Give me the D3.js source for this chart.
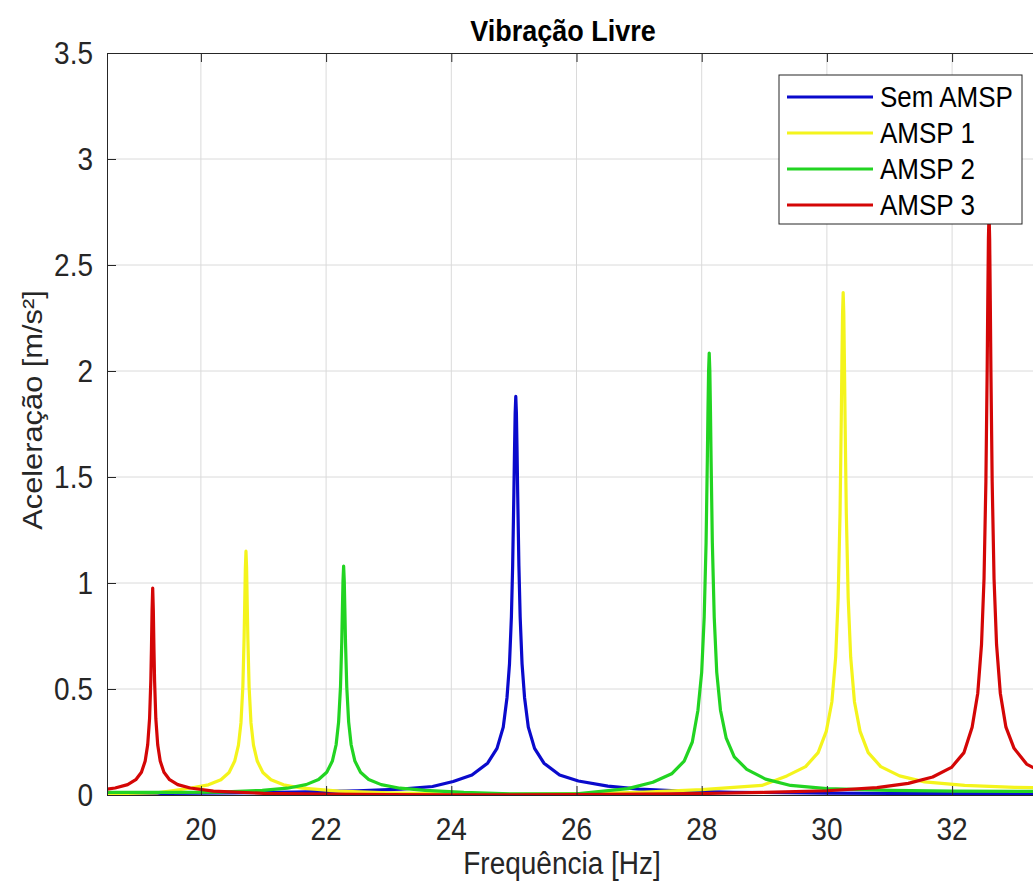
<!DOCTYPE html>
<html>
<head>
<meta charset="utf-8">
<script src="https://cdn.jsdelivr.net/npm/d3@7"></script>
<style>
  body { margin: 0; background: #fff; }
  svg { display: block; font-family: "Liberation Sans", Arial, sans-serif; }
</style>
</head>
<body>
<div id="chart"></div>
<script>
// Values: [frequency Hz, acceleration m/s²]
const semAmsp = [
  [18.5,0.006],[19.5,0.008],[20.5,0.010],[21.5,0.014],[22.5,0.020],[23.2,0.028],[23.7,0.040],
  [24.03,0.064],[24.33,0.094],[24.58,0.15],[24.73,0.22],[24.83,0.32],[24.89,0.46],[24.93,0.62],
  [24.96,0.84],[24.98,1.08],[25.0,1.43],[25.01,1.63],[25.02,1.80],[25.03,1.88],[25.04,1.80],
  [25.05,1.63],[25.06,1.43],[25.08,1.08],[25.1,0.84],[25.13,0.62],[25.17,0.46],[25.23,0.32],
  [25.33,0.22],[25.48,0.15],[25.73,0.094],[26.03,0.066],[26.5,0.042],[27.0,0.028],[27.6,0.019],
  [28.5,0.013],[30,0.009],[31.5,0.007],[34,0.006]
];

const amsp1 = [
  [18.5,0.006],[19.3,0.010],[19.82,0.032],[20.12,0.048],[20.32,0.072],[20.45,0.106],[20.54,0.16],
  [20.6,0.235],[20.64,0.34],[20.67,0.51],[20.69,0.74],[20.70,0.90],[20.71,1.07],[20.72,1.15],
  [20.73,1.07],[20.74,0.90],[20.75,0.74],[20.77,0.51],[20.80,0.34],[20.84,0.235],[20.90,0.16],
  [20.99,0.106],[21.12,0.072],[21.32,0.048],[21.62,0.032],[22.2,0.018],[23,0.010],[24,0.006],
  [25,0.003],[26,0.006],[27,0.013],[28,0.025],[28.96,0.045],[29.36,0.09],[29.66,0.134],
  [29.86,0.20],[29.99,0.30],[30.08,0.44],[30.14,0.65],[30.18,0.93],[30.21,1.33],[30.23,1.78],
  [30.24,2.04],[30.25,2.27],[30.26,2.37],[30.27,2.27],[30.28,2.04],[30.29,1.78],[30.31,1.33],
  [30.34,0.93],[30.38,0.65],[30.44,0.44],[30.53,0.30],[30.66,0.20],[30.86,0.134],[31.16,0.09],
  [31.56,0.062],[32.2,0.045],[33,0.036],[34,0.032]
];

const amsp2 = [
  [18.5,0.012],[19.5,0.012],[20.3,0.014],[20.98,0.022],[21.38,0.032],[21.68,0.049],[21.88,0.073],
  [22.01,0.107],[22.10,0.16],[22.16,0.237],[22.20,0.345],[22.23,0.51],[22.25,0.72],[22.26,0.87],
  [22.27,1.01],[22.28,1.08],[22.29,1.01],[22.30,0.87],[22.31,0.72],[22.33,0.51],[22.36,0.345],
  [22.40,0.237],[22.46,0.16],[22.55,0.107],[22.68,0.073],[22.88,0.049],[23.18,0.032],[23.58,0.022],
  [24.2,0.012],[25,0.005],[26,0.006],[26.82,0.03],[27.22,0.06],[27.52,0.10],[27.72,0.16],
  [27.85,0.25],[27.94,0.40],[28.00,0.58],[28.04,0.84],[28.07,1.19],[28.09,1.58],[28.10,1.81],
  [28.11,2.0],[28.12,2.085],[28.13,2.0],[28.14,1.81],[28.15,1.58],[28.17,1.19],[28.20,0.84],
  [28.24,0.58],[28.30,0.40],[28.39,0.27],[28.52,0.18],[28.72,0.121],[29.02,0.075],[29.42,0.045],
  [30,0.03],[31,0.022],[32,0.018],[34,0.016]
];

const amsp3 = [
  [18.5,0.028],[18.63,0.033],[18.83,0.049],[18.96,0.072],[19.05,0.107],[19.11,0.16],[19.15,0.237],
  [19.18,0.36],[19.20,0.54],[19.21,0.69],[19.22,0.87],[19.23,0.976],[19.24,0.87],[19.25,0.69],
  [19.26,0.54],[19.28,0.36],[19.31,0.237],[19.35,0.16],[19.41,0.107],[19.50,0.072],[19.63,0.049],
  [19.83,0.033],[20.2,0.018],[21,0.008],[22,0.004],[23,0.002],[24,0.001],[25,0.001],[26,0.002],
  [27,0.004],[28,0.007],[29,0.012],[30,0.02],[30.8,0.035],[31.3,0.055],[31.69,0.085],[31.99,0.13],
  [32.19,0.2],[32.32,0.32],[32.41,0.48],[32.47,0.71],[32.51,1.02],[32.54,1.48],[32.56,2.0],
  [32.57,2.33],[32.58,2.62],[32.59,2.75],[32.60,2.62],[32.61,2.33],[32.62,2.0],[32.64,1.48],
  [32.67,1.02],[32.71,0.71],[32.77,0.48],[32.86,0.32],[32.99,0.22],[33.19,0.146],[33.49,0.098],
  [34,0.07]
];

const seriesNames = ["Sem AMSP", "AMSP 1", "AMSP 2", "AMSP 3"];
const seriesColors = ["#0a0acc", "#f4f41c", "#22d422", "#d40606"];
const seriesData = [semAmsp, amsp1, amsp2, amsp3];

const xTicks = [20, 22, 24, 26, 28, 30, 32];
const yTicks = [0, 0.5, 1, 1.5, 2, 2.5, 3, 3.5];

const W = 1033, H = 882;
const plot = { left: 107, top: 53, bottom: 795 };
const pxPerHz = 62.6;
const stretch = 1.1;       // the reference text is a little taller than wide
const axisColor = "#262626";

const svg = d3.select("#chart")
  .append("svg")
  .attr("width", W)
  .attr("height", H);

const xScale = d3.scaleLinear()
  .domain([18.5, 34])
  .range([plot.left, plot.left + 15.5 * pxPerHz]);

const yScale = d3.scaleLinear()
  .domain([0, 3.5])
  .range([plot.bottom, plot.top]);

const plotRight = xScale(34);

// helper: text stretched vertically around its own anchor
function label(g, x, y, str, size, opts = {}) {
  const t = g.append("text")
    .attr("transform", `translate(${x},${y})${opts.rotate ? " rotate(-90)" : ""} scale(${opts.rotate ? stretch + ",1" : "1," + stretch})`)
    .attr("text-anchor", opts.anchor || "middle")
    .attr("dominant-baseline", "central")
    .attr("font-size", size)
    .attr("fill", opts.fill || axisColor)
    .text(str);
  if (opts.bold) t.attr("font-weight", "bold");
  return t;
}

// grid
svg.append("g")
  .selectAll("line")
  .data(xTicks)
  .join("line")
  .attr("x1", d => xScale(d)).attr("x2", d => xScale(d))
  .attr("y1", plot.top).attr("y2", plot.bottom)
  .attr("stroke", "#dadada").attr("stroke-width", 1);

svg.append("g")
  .selectAll("line")
  .data(yTicks.filter(d => d > 0 && d < 3.5))
  .join("line")
  .attr("x1", plot.left).attr("x2", plotRight)
  .attr("y1", d => yScale(d)).attr("y2", d => yScale(d))
  .attr("stroke", "#dadada").attr("stroke-width", 1);

// curves
svg.append("clipPath").attr("id", "clip")
  .append("rect")
  .attr("x", plot.left).attr("y", plot.top)
  .attr("width", plotRight - plot.left).attr("height", plot.bottom - plot.top);

const line = d3.line()
  .x(d => xScale(d[0]))
  .y(d => yScale(d[1]));

svg.append("g")
  .attr("clip-path", "url(#clip)")
  .selectAll("path")
  .data(seriesData)
  .join("path")
  .attr("d", line)
  .attr("fill", "none")
  .attr("stroke", (d, i) => seriesColors[i])
  .attr("stroke-width", 3.2)
  .attr("stroke-linejoin", "round");

// axes (MATLAB style: ticks pointing inward, labels drawn separately)
svg.append("g")
  .attr("transform", `translate(0,${plot.bottom})`)
  .call(d3.axisBottom(xScale).tickValues(xTicks).tickSizeInner(-9).tickSizeOuter(0).tickFormat(""))
  .call(g => g.selectAll("line, path").attr("stroke", axisColor));

svg.append("g")
  .attr("transform", `translate(0,${plot.top})`)
  .call(d3.axisTop(xScale).tickValues(xTicks).tickSizeInner(-9).tickSizeOuter(0).tickFormat(""))
  .call(g => g.selectAll("line, path").attr("stroke", axisColor));

svg.append("g")
  .attr("transform", `translate(${plot.left},0)`)
  .call(d3.axisLeft(yScale).tickValues(yTicks).tickSizeInner(-9).tickSizeOuter(0).tickFormat(""))
  .call(g => g.selectAll("line, path").attr("stroke", axisColor));

const tickLabels = svg.append("g");
xTicks.forEach(d => label(tickLabels, xScale(d), 829, d, 28));
yTicks.forEach(d => label(tickLabels, 93, yScale(d), d, 28, { anchor: "end" }));

// title and axis labels
label(svg, 563, 31, "Vibração Livre", 27, { bold: true, fill: "#000" });
label(svg, 562, 863, "Frequência [Hz]", 28);
label(svg, 32, 410, "Aceleração [m/s²]", 28, { rotate: true });

// legend
const legend = svg.append("g").attr("transform", "translate(779,75)");

legend.append("rect")
  .attr("width", 243).attr("height", 149)
  .attr("fill", "#fff")
  .attr("stroke", axisColor).attr("stroke-width", 1);

seriesNames.forEach((name, i) => {
  const y = 22 + i * 36;
  legend.append("line")
    .attr("x1", 8).attr("x2", 94)
    .attr("y1", y).attr("y2", y)
    .attr("stroke", seriesColors[i])
    .attr("stroke-width", 3.2);
  label(legend, 101, y, name, 26, { anchor: "start", fill: "#000" });
});
</script>
</body>
</html>
